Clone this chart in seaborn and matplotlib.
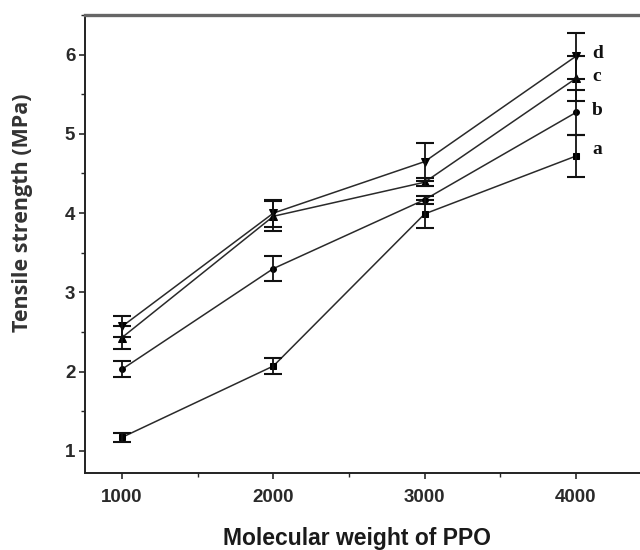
import matplotlib
matplotlib.use("Agg")
import matplotlib.pyplot as plt
import seaborn as sns
import pandas as pd
from matplotlib.ticker import MultipleLocator

mw = [1000, 2000, 3000, 4000]
series_names = ["a", "b", "c", "d"]
a_vals = [1.17, 2.07, 3.99, 4.72]
b_vals = [2.03, 3.30, 4.17, 5.27]
c_vals = [2.43, 3.96, 4.39, 5.70]
d_vals = [2.57, 4.00, 4.65, 5.98]
a_err = [0.06, 0.10, 0.18, 0.26]
b_err = [0.10, 0.16, 0.05, 0.28]
c_err = [0.14, 0.19, 0.05, 0.28]
d_err = [0.13, 0.17, 0.24, 0.29]

vals = {"a": a_vals, "b": b_vals, "c": c_vals, "d": d_vals}
errs = {"a": a_err, "b": b_err, "c": c_err, "d": d_err}
markers = {"a": "s", "b": "o", "c": "^", "d": "v"}
msizes = {"a": 5, "b": 4.2, "c": 6, "d": 6}
label_dy = {"a": 0.08, "b": 0.02, "c": 0.03, "d": 0.03}

sns.set_style("ticks")
fig = plt.figure(figsize=(6.4, 5.5), dpi=100)
ax = fig.add_axes([85 / 640, 1 - 473 / 550, 1 - 85 / 640, 458 / 550])

for s in series_names:
    df = pd.DataFrame({"mw": mw, "ts": vals[s]})
    sns.lineplot(data=df, x="mw", y="ts", marker=markers[s],
                 markersize=msizes[s], color="#2a2a2a", markeredgecolor="black",
                 markerfacecolor="black", linewidth=1.1, ax=ax, errorbar=None)
    ax.errorbar(mw, vals[s], yerr=errs[s], fmt="none", ecolor="#111111",
                elinewidth=1.3, capsize=6.5, capthick=1.5)
    ax.text(4000 + 105, vals[s][-1] + label_dy[s], s, fontsize=14,
            fontweight="bold", family="Liberation Serif", va="center",
            ha="left", color="#111111")

ax.set_xlim(755, 4423)
ax.set_ylim(0.72, 6.5)
ax.xaxis.set_major_locator(MultipleLocator(1000))
ax.xaxis.set_minor_locator(MultipleLocator(500))
ax.yaxis.set_major_locator(MultipleLocator(1))
ax.yaxis.set_minor_locator(MultipleLocator(0.5))
ax.tick_params(which="major", direction="out", length=4.5, width=1.2,
               labelsize=13.5, colors="#2a2a2a")
ax.tick_params(axis="x", which="major", pad=7)
ax.tick_params(axis="y", which="major", pad=2.5)
ax.tick_params(which="minor", direction="out", length=3, width=1.0)
for lab in ax.get_xticklabels() + ax.get_yticklabels():
    lab.set_fontweight("bold")
    lab.set_family("Liberation Sans")

ax.set_xlabel("Molecular weight of PPO", fontsize=16.5, fontweight="bold",
              family="Liberation Sans", color="#1a1a1a")
ax.set_ylabel("Tensile strength (MPa)", fontsize=15.5, fontweight="bold",
              family="Open Sans", color="#333333")
ax.xaxis.label.set_va("center")
ax.xaxis.set_label_coords((357 - 85) / 555, -(539 - 473) / 458)
ax.yaxis.label.set_va("center")
ax.yaxis.set_label_coords((23 - 85) / 555, (473 - 213) / 458)

for side in ["left", "bottom"]:
    ax.spines[side].set_linewidth(1.4)
    ax.spines[side].set_color("#222222")
ax.spines["top"].set_visible(True)
ax.spines["top"].set_linewidth(2.4)
ax.spines["top"].set_color("#666666")
ax.spines["right"].set_visible(False)

fig.savefig("out.png", dpi=100)
